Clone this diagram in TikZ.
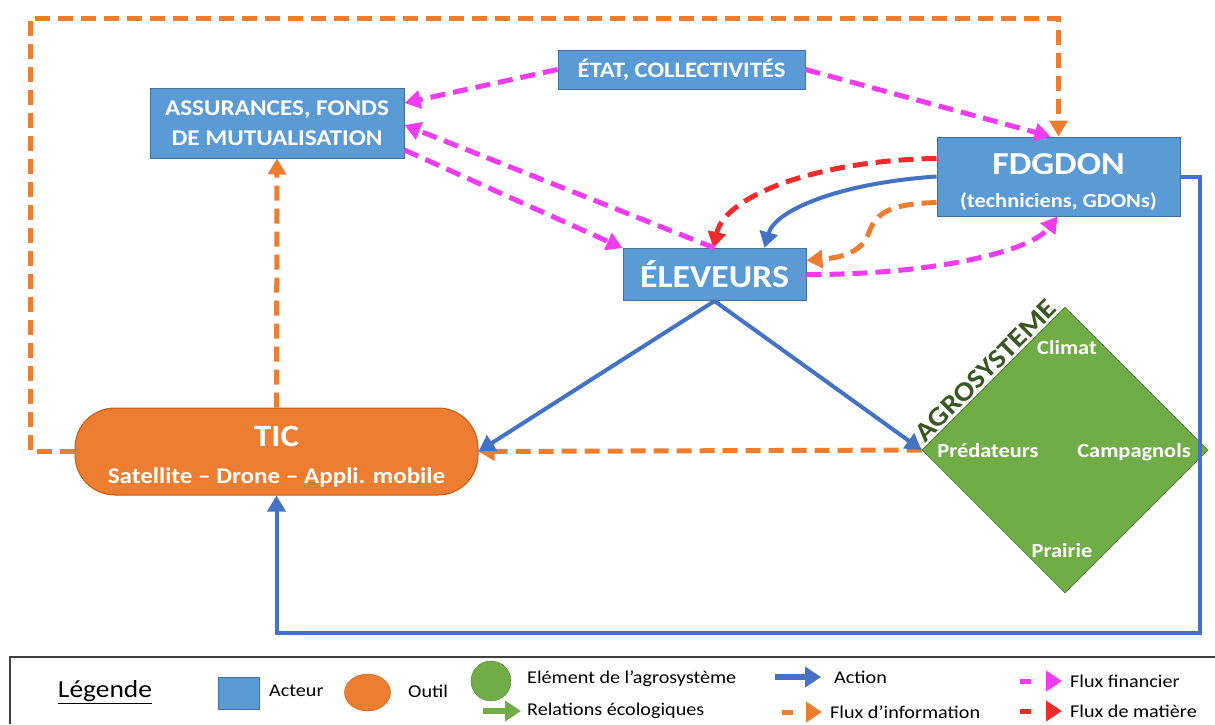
\documentclass[tikz,border=0pt]{standalone}
\usepackage{fontspec}
\setmainfont{Carlito}[FakeStretch=1.12]
\usetikzlibrary{arrows.meta,shapes.geometric,calc}
\definecolor{boxblue}{HTML}{5B9BD5}
\definecolor{boxedge}{HTML}{41719C}
\definecolor{torange}{HTML}{ED7D31}
\definecolor{tedge}{HTML}{C55A11}
\definecolor{agreen}{HTML}{70AD47}
\definecolor{gedge}{HTML}{548235}
\definecolor{dkgreen}{HTML}{385723}
\definecolor{actblue}{HTML}{4472C4}
\definecolor{finmag}{HTML}{F03CF0}
\definecolor{matred}{HTML}{F02B2B}
\definecolor{legline}{HTML}{404040}
\begin{document}
\begin{tikzpicture}[x=1pt,y=-1pt,
 actor/.style={draw=boxedge,line width=1pt,fill=boxblue,text=white,inner sep=0pt,align=center},
 tipA/.style={-{Triangle[length=16pt,width=18pt]}},
 fin/.style={draw=finmag,line width=5pt,dash pattern=on 15pt off 8pt,tipA,finmag},
 info/.style={draw=torange,line width=5pt,dash pattern=on 15pt off 8pt,tipA,torange},
 mat/.style={draw=matred,line width=5pt,dash pattern=on 15pt off 8pt,tipA,matred},
 act/.style={draw=actblue,line width=4pt,tipA,actblue},
 lbl/.style={text=white,font=\bfseries\fontsize{20}{22}\selectfont,inner sep=0pt},
 leg/.style={font=\fontsize{18}{20}\selectfont,anchor=west,inner sep=0pt}]
\useasboundingbox (0,0) rectangle (1215,724);
\fill[white] (0,0) rectangle (1215,724);

% actors
\node[actor,minimum width=254pt,minimum height=70pt,font=\bfseries\fontsize{22.5}{30}\selectfont] (assur) at (277,123) {ASSURANCES, FONDS\\DE MUTUALISATION};
\node[actor,minimum width=247pt,minimum height=39pt,font=\bfseries\fontsize{22}{24}\selectfont] (etat) at (681.5,69.5) {ÉTAT, COLLECTIVITÉS};
\node[actor,minimum width=243pt,minimum height=79pt,font=\bfseries\fontsize{20}{33}\selectfont] (fdg) at (1058.5,176.5) {\rule{0pt}{32pt}{\fontsize{32}{34}\selectfont FDGDON}\\(techniciens, GDONs)};
\node[actor,minimum width=183pt,minimum height=52pt,font=\bfseries\fontsize{32}{34}\selectfont] (elev) at (714.5,274.5) {ÉLEVEURS};

% tool
\node[draw=tedge,line width=1pt,fill=torange,rounded corners=40pt,minimum width=403pt,minimum height=87pt,inner sep=0pt,text=white,align=center,font=\bfseries\fontsize{22.4}{37}\selectfont] (tic) at (276.5,451.5) {\rule{0pt}{31pt}{\fontsize{31}{33}\selectfont TIC}\\Satellite – Drone – Appli. mobile};

% agrosystem
\node[diamond,aspect=1,fill=agreen,draw=gedge,line width=0.8pt,minimum width=286pt,minimum height=286pt,inner sep=0pt] (agro) at (1065,450) {};
\node[rotate=45,anchor=south,inner sep=2pt,text=dkgreen,font=\bfseries\fontsize{27}{29}\selectfont] (agrot) at ($(agro.west)!0.5!(agro.north)$) {AGROSYSTEME};
\node[lbl] (climat) at (1067,348) {Climat};
\node[lbl] (pred) at (988,451) {Prédateurs};
\node[lbl] (camp) at (1134,452) {Campagnols};
\node[lbl] (prai) at (1062,551) {Prairie};

% information flows
\draw[info] (tic.west) -| (30,18) -| (fdg.north);
\draw[info] (tic.north) -- (assur.south);
\draw[info] (agro.west) -- (tic.east);
\draw[info] ([yshift=-26pt]fdg.west) .. controls (885,204) and (875,215) .. (868,235) .. controls (860,255) and (835,258) .. ([yshift=14pt]elev.east);

% actions
\draw[act] (elev.south) -- (tic.east);
\draw[act] (elev.south) -- (agro.west);
\draw[act] (fdg.east) -| (1200,633) -| (tic.south);
\draw[act] (fdg.west) .. controls (840,183) and (775,210) .. ([xshift=50pt]elev.north);

% matter flow
\draw[mat] ([yshift=18pt]fdg.west) .. controls (820,160) and (725,195) .. ([xshift=-1pt]elev.north);

% financial flows
\draw[fin] (etat.west) -- ([yshift=20pt]assur.east);
\draw[fin] (etat.east) -- ([xshift=-8pt]fdg.north);
\draw[fin] (elev.north) -- ([yshift=-2pt]assur.east);
\draw[fin] ([yshift=-27pt]assur.east) -- (elev.north west);
\draw[fin] (elev.east) .. controls (930,275) and (1030,252) .. ([xshift=-1pt]fdg.south);

% legend
\draw[legline,line width=2pt] (10,724) -- (10,657) -- (1215,657);
\node[anchor=center,inner sep=0pt,font=\fontsize{24.5}{27}\selectfont] (legt) at (105,692) {\underline{Légende}};
\node[fill=boxblue,draw=boxedge,minimum width=41pt,minimum height=32pt,inner sep=0pt] (lgact) at (238.5,693) {};
\node[leg] (lgactt) at (269,691) {Acteur};
\node[ellipse,fill=torange,draw=tedge,minimum width=46pt,minimum height=37pt,inner sep=0pt] (lgtool) at (367.5,692.5) {};
\node[leg] (lgtoolt) at (408,691) {Outil};
\node[circle,fill=agreen,draw=gedge,minimum size=40pt,inner sep=0pt] (lgelem) at (491,681) {};
\node[leg] (lgelemt) at (527,679) {Elément de l’agrosystème};
\coordinate (ga) at (483,711); \coordinate (gb) at (521,711);
\draw[draw=agreen,line width=6pt,-{Triangle[length=16pt,width=20pt]},agreen] (ga) -- (gb);
\node[leg] (lgrelt) at (527,711) {Relations écologiques};
\coordinate (aa) at (775,677); \coordinate (ab) at (821,677);
\draw[draw=actblue,line width=6pt,-{Triangle[length=16pt,width=20pt]},actblue] (aa) -- (ab);
\node[leg] (lgactiont) at (834,677) {Action};
\coordinate (ia) at (782,712); \coordinate (ib) at (822,712);
\draw[info,dash pattern=on 11pt off 60pt,-{Triangle[length=16pt,width=20pt]}] (ia) -- (ib);
\node[leg] (lginfot) at (830,712) {Flux d’information};
\coordinate (fa) at (1020,681); \coordinate (fb) at (1062,681);
\draw[fin,dash pattern=on 11pt off 60pt,-{Triangle[length=16pt,width=20pt]}] (fa) -- (fb);
\node[leg] (lgfint) at (1070,681) {Flux financier};
\coordinate (ma) at (1020,711); \coordinate (mb) at (1062,711);
\draw[mat,dash pattern=on 11pt off 60pt,-{Triangle[length=16pt,width=20pt]}] (ma) -- (mb);
\node[leg] (lgmatt) at (1070,711) {Flux de matière};
\end{tikzpicture}
\end{document}
